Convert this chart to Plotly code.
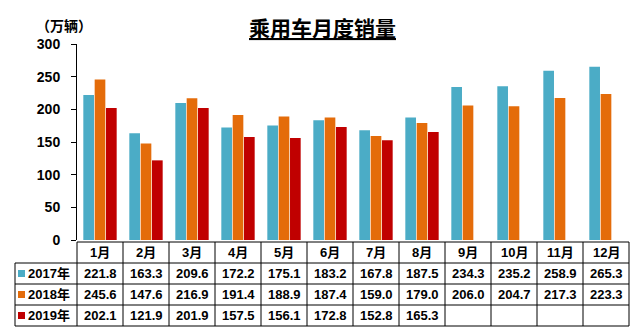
import plotly.graph_objects as go

months = ["1月", "2月", "3月", "4月", "5月", "6月", "7月", "8月", "9月", "10月", "11月", "12月"]
series_names = ["2017年", "2018年", "2019年"]
v2017 = [221.8, 163.3, 209.6, 172.2, 175.1, 183.2, 167.8, 187.5, 234.3, 235.2, 258.9, 265.3]
v2018 = [245.6, 147.6, 216.9, 191.4, 188.9, 187.4, 159.0, 179.0, 206.0, 204.7, 217.3, 223.3]
v2019 = [202.1, 121.9, 201.9, 157.5, 156.1, 172.8, 152.8, 165.3, None, None, None, None]
colors = ["#4BACC6", "#E46C0A", "#C00000"]
yticks = [0, 50, 100, 150, 200, 250, 300]

W, H = 633, 329
L, R, T, B = 77, 629, 44, 240

def px(x):
    return (x - L) / (R - L)

def py(y):
    return (B - y) / (B - T)

FONT = "Liberation Sans, Arial, Noto Sans CJK SC"
fig = go.Figure()
xs = list(range(len(months)))
for name, vals, c in zip(series_names, [v2017, v2018, v2019], colors):
    fig.add_trace(go.Bar(x=xs, y=vals, name=name, marker=dict(color=c, line=dict(width=0)),
                         showlegend=False))

fig.update_layout(
    width=W, height=H,
    margin=dict(l=L, r=W - R, t=T, b=H - B, pad=0),
    plot_bgcolor="white", paper_bgcolor="white",
    barmode="group", bargap=0.26, bargroupgap=0.06,
    font=dict(family=FONT, color="black"),
    xaxis=dict(range=[-0.5, len(months) - 0.5], showticklabels=False, ticks="",
               showgrid=False, zeroline=False, showline=False),
    yaxis=dict(range=[0, 300], tickvals=yticks, ticktext=["<b>%d</b>" % t for t in yticks],
               ticks="outside", ticklen=5,
               tickcolor="black", showline=True, linecolor="black", linewidth=1,
               showgrid=False, zeroline=False,
               tickfont=dict(family=FONT, size=14, color="black"), ticklabelstandoff=8),
)

shapes = []
ann = []
# title
ann.append(dict(text="<b><u>乘用车月度销量</u></b>", x=px(322), y=py(27), xref="paper", yref="paper",
                showarrow=False, font=dict(family="Noto Sans CJK SC", size=21, color="black"),
                xanchor="center", yanchor="middle"))
ann.append(dict(text="<b>（万辆）</b>", x=px(64), y=py(25), xref="paper", yref="paper",
                showarrow=False, font=dict(family="Noto Sans CJK SC", size=14, color="black"),
                xanchor="center", yanchor="middle"))

# table grid
rows_y = [242, 263, 284, 305, 326]
line = dict(color="black", width=1)
shapes.append(dict(type="line", xref="paper", yref="paper", x0=px(L), x1=px(R), y0=py(rows_y[0]), y1=py(rows_y[0]), line=line))
for yy in rows_y[1:]:
    shapes.append(dict(type="line", xref="paper", yref="paper", x0=px(15), x1=px(R), y0=py(yy), y1=py(yy), line=line))
shapes.append(dict(type="line", xref="paper", yref="paper", x0=px(15), x1=px(15), y0=py(rows_y[1]), y1=py(rows_y[-1]), line=line))
for i in range(len(months) + 1):
    xv = px(L + (R - L) * i / len(months))
    shapes.append(dict(type="line", xref="paper", yref="paper", x0=xv, x1=xv, y0=py(rows_y[0]), y1=py(rows_y[-1]), line=line))

cellfont = dict(family=FONT, size=13, color="black")
for i, m in enumerate(months):
    ann.append(dict(text="<b>%s</b>" % m, x=i, y=py((rows_y[0] + rows_y[1]) / 2), xref="x", yref="paper",
                    showarrow=False, font=dict(family="Liberation Sans, Noto Sans CJK SC", size=13),
                    xanchor="center", yanchor="middle"))
for r, (name, vals, c) in enumerate(zip(series_names, [v2017, v2018, v2019], colors)):
    yc = (rows_y[r + 1] + rows_y[r + 2]) / 2
    for i, v in enumerate(vals):
        if v is None:
            continue
        ann.append(dict(text="<b>%.1f</b>" % v, x=i, y=py(yc), xref="x", yref="paper",
                        showarrow=False, font=cellfont, xanchor="center", yanchor="middle"))
    shapes.append(dict(type="rect", xref="paper", yref="paper", x0=px(18), x1=px(25),
                       y0=py(yc + 3.5), y1=py(yc - 3.5), fillcolor=c, line=dict(width=0)))
    ann.append(dict(text="<b>%s</b>" % name, x=px(26), y=py(yc), xref="paper", yref="paper",
                    showarrow=False, font=dict(family="Liberation Sans, Noto Sans CJK SC", size=13),
                    xanchor="left", yanchor="middle"))

fig.update_layout(shapes=shapes, annotations=ann)
fig.write_html("out.html")
